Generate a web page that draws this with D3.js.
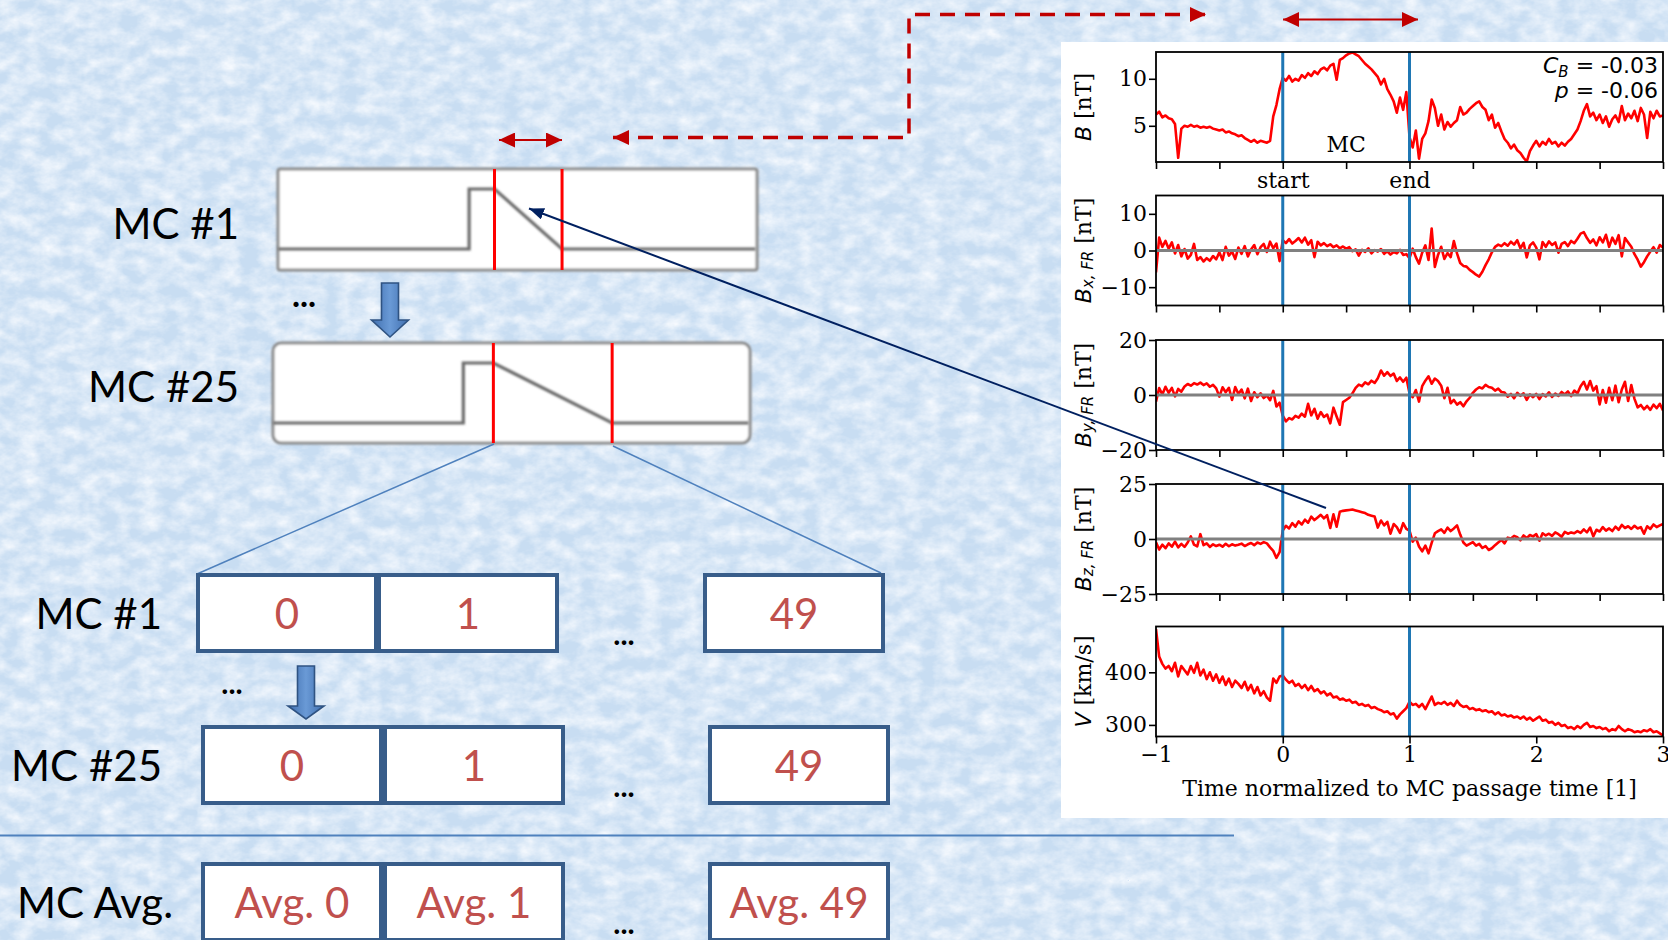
<!DOCTYPE html>
<html>
<head>
<meta charset="utf-8">
<script src="https://cdn.jsdelivr.net/npm/d3@7"></script>
<style>
  body { margin: 0; overflow: hidden; background: #cadff3; }
  svg { display: block; }
</style>
</head>
<body>
<div id="content"></div>
<script>
// ---- data (time normalized to MC passage, step 0.025 from -1 to 3) ----
const timeStart = -1;
const timeStep = 0.025;
const mcBounds = [0, 1];

const bTotal = [6.2,6.5,5.9,6.1,5.8, 5.7,5.2,1.6,4.7,5.0, 4.9,5.1,4.9,5.0,4.8, 4.9,4.8,4.9,4.7,4.6,
  4.5,4.6,4.3,4.4,4.2, 4.1,3.9,4.0,3.7,3.5, 3.3,3.5,3.2,3.4,3.3, 3.2,3.4,6.0,7.2,8.9,
  10.1,9.8,10.3,9.7,10.0, 9.8,10.4,10.1,10.6,10.3, 10.8,10.5,11.0,11.2,10.9, 11.4,11.6,9.9,12.0,12.2,
  12.5,12.7,12.8,12.6,12.4, 12.0,11.6,11.3,11.0,10.6, 10.2,9.4,10.0,8.9,8.3, 7.6,6.4,8.0,6.7,8.6,
  3.8,2.7,4.5,1.5,3.6, 4.2,5.5,7.8,6.9,5.0, 6.2,4.6,5.4,4.9,5.3, 5.6,7.0,6.2,6.4,6.8,
  7.1,7.4,7.6,7.0,6.7, 5.6,6.2,4.8,5.3,4.4, 3.6,3.2,2.6,3.0,2.4, 2.1,1.6,1.2,2.3,2.9,
  3.4,2.8,3.3,3.0,3.6, 3.1,3.3,2.8,3.2,2.9, 3.3,3.6,4.1,4.6,5.5, 6.6,7.3,6.0,6.4,5.6,
  6.2,5.3,6.0,4.9,5.7, 6.1,5.4,7.1,5.6,6.3, 5.8,6.6,5.5,6.9,6.2, 3.7,6.5,5.8,6.6,6.0, 6.1];

const bxFR = [-6.0,3.5,1.0,2.6,0.5, 2.2,-0.8,1.5,-1.6,0.4, -2.2,-1.2,1.8,-2.6,-1.8, -3.0,-2.1,-2.8,-1.5,-2.4,
  -0.5,-2.6,1.0,-1.4,-0.3, -2.3,0.8,-0.9,1.2,-1.6, 0.3,1.5,-1.0,0.9,1.8, -0.4,2.4,0.6,1.9,-2.9,
  2.8,2.0,3.1,1.9,2.6, 3.4,2.2,3.5,1.6,2.8, -1.8,2.4,1.4,2.0,1.2, 1.7,0.9,1.4,0.6,1.1,
  0.5,0.9,-0.2,0.3,-1.4, 0.2,-0.4,0.6,-0.8,0.1, -0.3,0.4,-0.9,-0.2,-1.1, -0.4,-0.8,0.2,-1.2,-1.0,
  -2.1,0.5,-1.8,-3.6,-0.6, 1.4,-2.6,6.0,-4.5,-1.2, 1.0,-2.3,-0.7,-1.8,2.6, -0.8,-3.4,-4.2,-4.4,-5.3,
  -5.9,-6.6,-7.1,-5.8,-4.0, -2.4,-0.5,1.0,1.6,1.2, 2.0,1.3,2.4,1.6,2.8, 0.6,2.1,-1.9,1.4,2.2,
  0.8,-2.4,2.3,1.0,2.5, 1.5,2.2,-0.6,1.8,2.3, 1.2,2.6,2.0,3.2,4.6, 5.0,3.4,2.1,3.0,1.4,
  3.6,2.2,4.3,1.0,3.5, 1.8,4.2,-1.6,3.4,2.2, 1.0,-1.0,-2.5,-4.4,-3.2, -1.6,-0.3,0.9,-0.6,1.5, 0.8];

const byFR = [-2.4,2.5,0.2,3.0,0.8, 2.6,-0.5,2.2,1.2,3.1, 4.0,3.4,4.3,3.8,4.5, 3.6,4.2,3.0,3.7,2.4,
  -0.6,2.8,1.0,2.6,-1.8, 2.9,0.4,2.0,-1.2,2.3, -2.2,1.0,-0.8,0.6,-1.1, -0.2,-1.9,1.5,-4.2,-2.8,
  -7.5,-9.6,-8.4,-8.9,-7.6, -8.2,-6.8,-7.9,-3.2,-7.4, -5.0,-8.6,-6.2,-8.0,-7.1, -10.3,-4.6,-7.8,-10.8,-2.6,
  -1.8,-1.0,0.6,2.6,3.8, 3.2,4.6,3.9,5.2,4.4, 6.1,8.9,7.0,8.3,6.9, 7.8,5.1,6.4,4.8,6.3,
  0.6,-0.8,1.8,-2.4,3.2, 5.2,6.8,4.1,6.0,5.1, 3.4,-1.2,2.6,-3.0,-1.8, -3.5,-2.6,-4.1,-2.3,-1.0,
  0.8,2.0,2.8,2.4,3.7, 2.9,2.6,1.6,2.3,1.1, 0.9,-0.6,0.4,-1.2,0.8, -0.3,0.6,-1.8,0.2,-0.8,
  0.4,-1.5,0.3,-0.5,1.0, -0.7,0.5,-0.3,1.1,0.2, 1.3,-0.4,1.6,0.6,3.2, 4.8,2.0,5.1,1.6,3.2,
  -3.4,1.8,-2.8,2.6,-1.9, 3.4,-2.6,2.0,4.8,-2.2, 3.6,-1.4,-4.5,-3.6,-5.2, -4.0,-5.4,-3.5,-4.8,-3.2, -5.6];

const bzFR = [-1.5,-4.8,-2.6,-4.2,-2.0, -3.5,-1.2,-3.8,-2.2,-3.6, -1.6,1.2,-2.6,-3.4,2.2, -2.8,-2.0,-3.6,-2.4,-3.2,
  -2.6,-3.5,-2.2,-3.3,-2.4, -3.0,-2.6,-2.1,-3.2,-2.4, -1.8,-2.8,-1.6,-2.2,-1.4, -2.0,-3.8,-5.4,-8.6,-6.0,
  3.8,6.0,4.8,7.2,5.6, 8.0,6.6,8.8,7.4,10.2, 8.6,9.8,11.0,9.4,10.8, 5.0,11.2,5.6,12.4,12.8,
  13.0,13.2,13.4,13.0,12.6, 12.2,11.8,11.0,10.6,10.2, 5.2,8.4,6.2,7.8,2.4, 6.8,5.4,2.8,7.2,4.6,
  3.8,-1.2,0.6,-3.4,-5.6, -3.0,-6.5,-1.8,2.6,3.6, 4.4,2.8,5.2,3.6,4.8, 6.2,2.0,-1.6,-3.0,-2.2,
  -1.4,-3.0,-2.2,-4.1,-3.2, -5.0,-4.2,-2.8,-1.6,-0.4, -2.0,0.6,0.2,1.4,0.8, -0.6,1.6,0.4,1.8,1.2,
  2.2,-0.8,2.6,1.6,2.4, 1.4,3.0,2.2,1.0,3.2, 2.4,3.0,2.6,3.6,2.8, 4.4,3.0,5.2,1.2,4.2,
  3.4,5.4,3.8,4.8,3.6, 5.6,4.2,6.4,5.0,5.8, 4.6,6.0,4.8,5.4,2.4, 5.8,4.6,6.6,5.4,6.2, 6.8];

const speed = [482,430,416,407,412, 402,418,392,412,404, 396,412,399,418,394, 405,387,400,384,396,
  380,392,376,388,372, 384,378,370,382,366, 376,360,372,356,364, 352,346,388,380,392,
  394,386,380,384,374, 378,370,376,366,374, 364,368,360,364,356, 360,352,354,348,350,
  346,348,342,344,338, 340,336,338,332,334, 330,328,324,326,320, 322,312,320,326,332,
  344,338,340,334,340, 330,342,354,338,342, 340,344,338,342,336, 346,338,334,336,330,
  332,328,330,326,328, 324,326,320,324,318, 320,316,318,314,316, 312,316,310,314,308,
  312,316,308,310,304, 306,300,304,298,300, 294,296,292,298,294, 300,304,296,298,294,
  296,292,294,288,292, 290,298,292,288,292, 290,286,288,286,290, 288,292,286,288,284, 280];

const panelDomains = [[1.15, 12.85], [-15, 15], [-20, 20], [-25, 25], [278, 487]];
const panelTicks = [[5, 10], [-10, 0, 10], [-20, 0, 20], [-25, 0, 25], [300, 400]];
const panelLabels = [
  [['B', 'i'], [' [nT]', 'r']],
  [['B', 'i'], ['x, FR', 'sub'], [' [nT]', 'r']],
  [['B', 'i'], ['y, FR', 'sub'], [' [nT]', 'r']],
  [['B', 'i'], ['z, FR', 'sub'], [' [nT]', 'r']],
  [['V', 'i'], [' [km/s]', 'r']]
];
const xMajorTicks = [-1, 0, 1, 2, 3];
const xMinorTicks = [-1, -0.5, 0, 0.5, 1, 1.5, 2, 2.5, 3];
const boundNames = ['start', 'end'];
const corrLines = [['C', 'B', ' = -0.03'], ['p', '', ' = -0.06']];

// schematic profile inside the two sketch boxes (relative units)
const sketchLevelX = [0, 0.399, 0.399];
const sketchStart = [0.452, 0.462];
const sketchEnd = [0.593, 0.711];

const rowNames = ['MC #1', 'MC #25', 'MC Avg.'];
const binLabels = [['0', '1', '49'], ['0', '1', '49'], ['Avg. 0', 'Avg. 1', 'Avg. 49']];

// ---- canvas ----
const W = 1668, H = 940;
const svg = d3.select('#content').append('svg').attr('width', W).attr('height', H);
const defs = svg.append('defs');

// mottled paper background
const tex = defs.append('filter').attr('id', 'marble').attr('x', 0).attr('y', 0).attr('width', '100%').attr('height', '100%');
tex.append('feTurbulence').attr('type', 'fractalNoise').attr('baseFrequency', '0.05 0.07').attr('numOctaves', 4).attr('seed', 11);
tex.append('feColorMatrix').attr('type', 'matrix')
  .attr('values', '0 0 0 0 0.95  0 0 0 0 0.97  0 0 0 0 1  1.5 0 0 0 -0.45');
const soft = defs.append('filter').attr('id', 'soft');
soft.append('feGaussianBlur').attr('stdDeviation', 0.8);

svg.append('rect').attr('width', W).attr('height', H).attr('fill', '#c8ddf2');
svg.append('rect').attr('width', W).attr('height', H).attr('filter', 'url(#marble)');

function marker(id, color, len, wid) {
  defs.append('marker').attr('id', id)
    .attr('viewBox', `0 0 ${len} ${wid}`).attr('refX', len).attr('refY', wid / 2)
    .attr('markerWidth', len).attr('markerHeight', wid)
    .attr('markerUnits', 'userSpaceOnUse').attr('orient', 'auto-start-reverse')
    .append('path').attr('d', `M0,0L${len},${wid / 2}L0,${wid}Z`).attr('fill', color);
}
marker('redHead', '#c00000', 16, 15);
marker('redSmall', '#c00000', 16, 15);
marker('navyHead', '#002060', 15, 12);

// ---- right figure: five stacked panels ----
svg.append('rect').attr('x', 1061).attr('y', 42).attr('width', 607).attr('height', 776).attr('fill', '#fff');

const plotLeft = 1156, plotRight = 1663, panelH = 110;
const panelTops = [52, 195.5, 340, 484, 626.5];
const series = [bTotal, bxFR, byFR, bzFR, speed];
const x = d3.scaleLinear([-1, 3], [plotLeft, plotRight]);
const serif = 'DejaVu Serif', sans = 'DejaVu Sans';
const fs = 22;

series.forEach((vals, k) => {
  const top = panelTops[k];
  const y = d3.scaleLinear(panelDomains[k], [top + panelH, top]);
  const g = svg.append('g');
  defs.append('clipPath').attr('id', 'clip' + k).append('rect')
    .attr('x', plotLeft).attr('y', top).attr('width', plotRight - plotLeft).attr('height', panelH);

  const line = d3.line().x((d, i) => x(timeStart + i * timeStep)).y(d => y(d));
  g.append('path').datum(vals).attr('d', line).attr('clip-path', `url(#clip${k})`)
    .attr('fill', 'none').attr('stroke', '#ff0000').attr('stroke-width', 2.6).attr('stroke-linejoin', 'round');

  if (k >= 1 && k <= 3) {
    g.append('line').attr('x1', plotLeft).attr('x2', plotRight).attr('y1', y(0)).attr('y2', y(0))
      .attr('stroke', '#808080').attr('stroke-width', 3);
  }
  mcBounds.forEach(t => {
    g.append('line').attr('x1', x(t)).attr('x2', x(t)).attr('y1', top).attr('y2', top + panelH)
      .attr('stroke', '#1f77b4').attr('stroke-width', 3);
  });
  g.append('rect').attr('x', plotLeft).attr('y', top).attr('width', plotRight - plotLeft).attr('height', panelH)
    .attr('fill', 'none').attr('stroke', '#000').attr('stroke-width', 1.8);

  const yAxis = g.append('g').attr('transform', `translate(${plotLeft},0)`)
    .call(d3.axisLeft(y).tickValues(panelTicks[k]).tickSize(7).tickPadding(2).tickFormat(d3.format('d')));
  const xAxis = g.append('g').attr('transform', `translate(0,${top + panelH})`)
    .call(d3.axisBottom(x).tickValues(k === 4 ? xMajorTicks : xMinorTicks).tickSize(7).tickPadding(3)
      .tickFormat(d => k === 4 ? d3.format('d')(d) : (k === 0 && mcBounds.includes(d) ? boundNames[mcBounds.indexOf(d)] : '')));
  [yAxis, xAxis].forEach(a => {
    a.select('.domain').remove();
    a.selectAll('line').attr('stroke', '#000').attr('stroke-width', 1.6);
    a.selectAll('text').attr('font-family', serif).attr('font-size', fs).attr('fill', '#000');
  });

  const lab = g.append('text').attr('transform', `translate(1083,${top + panelH / 2}) rotate(-90)`)
    .attr('text-anchor', 'middle').attr('dominant-baseline', 'central').attr('font-size', fs);
  let shifted = false;
  panelLabels[k].forEach(([s, kind]) => {
    const t = lab.append('tspan').text(s);
    if (kind === 'i') { t.attr('font-family', sans).attr('font-style', 'italic'); }
    if (kind === 'sub') { t.attr('font-family', sans).attr('font-style', 'italic').attr('font-size', 15).attr('dy', 5); shifted = true; }
    if (kind === 'r') { t.attr('font-family', serif); if (shifted) t.attr('dy', -5); }
  });
});

// annotations in the |B| panel
corrLines.forEach(([a, sub, rest], i) => {
  const t = svg.append('text').attr('x', 1658).attr('y', 73 + i * 25).attr('text-anchor', 'end')
    .attr('font-family', sans).attr('font-size', fs);
  t.append('tspan').text(a).attr('font-style', 'italic');
  if (sub) t.append('tspan').text(sub).attr('font-style', 'italic').attr('font-size', 15).attr('dy', 4);
  t.append('tspan').text(rest).attr('dy', sub ? -4 : 0);
});
svg.append('text').attr('x', x(0.5)).attr('y', 152).attr('text-anchor', 'middle')
  .attr('font-family', serif).attr('font-size', fs).text('MC');
svg.append('text').attr('x', x(1)).attr('y', 796).attr('text-anchor', 'middle')
  .attr('font-family', serif).attr('font-size', fs).text('Time normalized to MC passage time [1]');

// ---- left: sketch boxes ----
const sketchBoxes = [
  { x0: 278, x1: 757, y0: 169, y1: 270, rx: 2, base: 249, high: 189 },
  { x0: 273, x1: 750, y0: 343, y1: 443, rx: 8, base: 423, high: 363 }
];
sketchBoxes.forEach((b, k) => {
  const sx = d3.scaleLinear([0, 1], [b.x0, b.x1]);
  const sy = d3.scaleLinear([0, 1], [b.base, b.high]);
  svg.append('rect').attr('x', b.x0).attr('y', b.y0).attr('width', b.x1 - b.x0).attr('height', b.y1 - b.y0)
    .attr('rx', b.rx).attr('fill', '#fff').attr('stroke', '#8a8a8a').attr('stroke-width', 3).attr('filter', 'url(#soft)');
  const px = sketchLevelX.concat([sketchStart[k], sketchEnd[k], 0.997]);
  const py = [0, 0, 1, 1, 0, 0];
  svg.append('path').datum(px.map((v, i) => [sx(v), sy(py[i])]))
    .attr('d', d3.line()).attr('fill', 'none').attr('stroke', '#6b6b6b').attr('stroke-width', 3.2).attr('filter', 'url(#soft)');
  [sketchStart[k], sketchEnd[k]].forEach(v => {
    svg.append('line').attr('x1', sx(v)).attr('x2', sx(v)).attr('y1', b.y0).attr('y2', b.y1)
      .attr('stroke', '#ff0000').attr('stroke-width', 3);
  });
});

// block arrows
const grad = defs.append('linearGradient').attr('id', 'blockGrad').attr('x1', 0).attr('x2', 1);
grad.append('stop').attr('offset', 0).attr('stop-color', '#3f6eae');
grad.append('stop').attr('offset', 0.5).attr('stop-color', '#6a9ad6');
grad.append('stop').attr('offset', 1).attr('stop-color', '#3f6eae');
function blockArrow(cx, y0, yh, tip, sw, hw) {
  const pts = [[cx - sw / 2, y0], [cx + sw / 2, y0], [cx + sw / 2, yh], [cx + hw / 2, yh], [cx, tip], [cx - hw / 2, yh], [cx - sw / 2, yh]];
  svg.append('path').attr('d', d3.line()(pts) + 'Z').attr('fill', 'url(#blockGrad)')
    .attr('stroke', '#2f5382').attr('stroke-width', 1.6);
}
blockArrow(390, 283, 320, 337, 17, 37);
blockArrow(306, 666, 706, 719, 17, 36);

// connector lines from MC #25 sketch to bins
svg.append('line').attr('x1', 494).attr('y1', 444).attr('x2', 197).attr('y2', 574).attr('stroke', '#4f81bd').attr('stroke-width', 1.5);
svg.append('line').attr('x1', 613).attr('y1', 446).attr('x2', 881).attr('y2', 573).attr('stroke', '#4f81bd').attr('stroke-width', 1.5);

// bins
const rowTops = [575, 727, 864];
const binX = [[198, 379, 705], [203, 385, 710], [203, 385, 710]];
const binW = 178, binH = 76;
binLabels.forEach((labs, r) => {
  labs.forEach((s, c) => {
    svg.append('rect').attr('x', binX[r][c]).attr('y', rowTops[r]).attr('width', binW).attr('height', binH)
      .attr('fill', '#fff').attr('stroke', '#385d8a').attr('stroke-width', 4);
    svg.append('text').attr('x', binX[r][c] + binW / 2).attr('y', rowTops[r] + binH / 2)
      .attr('text-anchor', 'middle').attr('dominant-baseline', 'central')
      .attr('font-family', 'Lato').attr('font-size', 42).attr('fill', '#c0504d').text(s);
  });
  svg.append('text').attr('x', r < 2 ? 162 : 17).attr('y', rowTops[r] + binH / 2)
    .attr('text-anchor', r < 2 ? 'end' : 'start').attr('dominant-baseline', 'central')
    .attr('font-family', 'Lato').attr('font-size', 42).attr('fill', '#000').text(rowNames[r]);
  svg.append('text').attr('x', 624).attr('y', rowTops[r] + 70).attr('text-anchor', 'middle')
    .attr('font-family', 'Lato').attr('font-weight', 'bold').attr('font-size', 30).text('...');
});
svg.append('text').attr('x', 232).attr('y', 694).attr('text-anchor', 'middle')
  .attr('font-family', 'Lato').attr('font-weight', 'bold').attr('font-size', 30).text('...');
svg.append('text').attr('x', 304).attr('y', 307).attr('text-anchor', 'middle')
  .attr('font-family', 'Lato').attr('font-weight', 'bold').attr('font-size', 34).text('...');

// sketch row names
[['MC #1', 223], ['MC #25', 386]].forEach(([s, yc]) => {
  svg.append('text').attr('x', 239).attr('y', yc).attr('text-anchor', 'end').attr('dominant-baseline', 'central')
    .attr('font-family', 'Lato').attr('font-size', 42).attr('fill', '#000').text(s);
});

// separator
svg.append('line').attr('x1', 0).attr('x2', 1234).attr('y1', 835.5).attr('y2', 835.5).attr('stroke', '#4f81bd').attr('stroke-width', 2);

// red arrows
svg.append('path').attr('d', d3.line()([[613, 137.5], [909, 137.5], [909, 14.5], [1206, 14.5]]))
  .attr('fill', 'none').attr('stroke', '#c00000').attr('stroke-width', 3.5).attr('stroke-dasharray', '15 10')
  .attr('marker-start', 'url(#redHead)').attr('marker-end', 'url(#redHead)');
[[499, 562, 140], [1283, 1418, 19.5]].forEach(([a, b, yy]) => {
  svg.append('line').attr('x1', a).attr('x2', b).attr('y1', yy).attr('y2', yy)
    .attr('stroke', '#c00000').attr('stroke-width', 2)
    .attr('marker-start', 'url(#redSmall)').attr('marker-end', 'url(#redSmall)');
});

// navy pointer from Bz panel to sketch
svg.append('line').attr('x1', 1326).attr('y1', 508).attr('x2', 529).attr('y2', 208.5)
  .attr('stroke', '#002060').attr('stroke-width', 2).attr('marker-end', 'url(#navyHead)');
</script>
</body>
</html>
